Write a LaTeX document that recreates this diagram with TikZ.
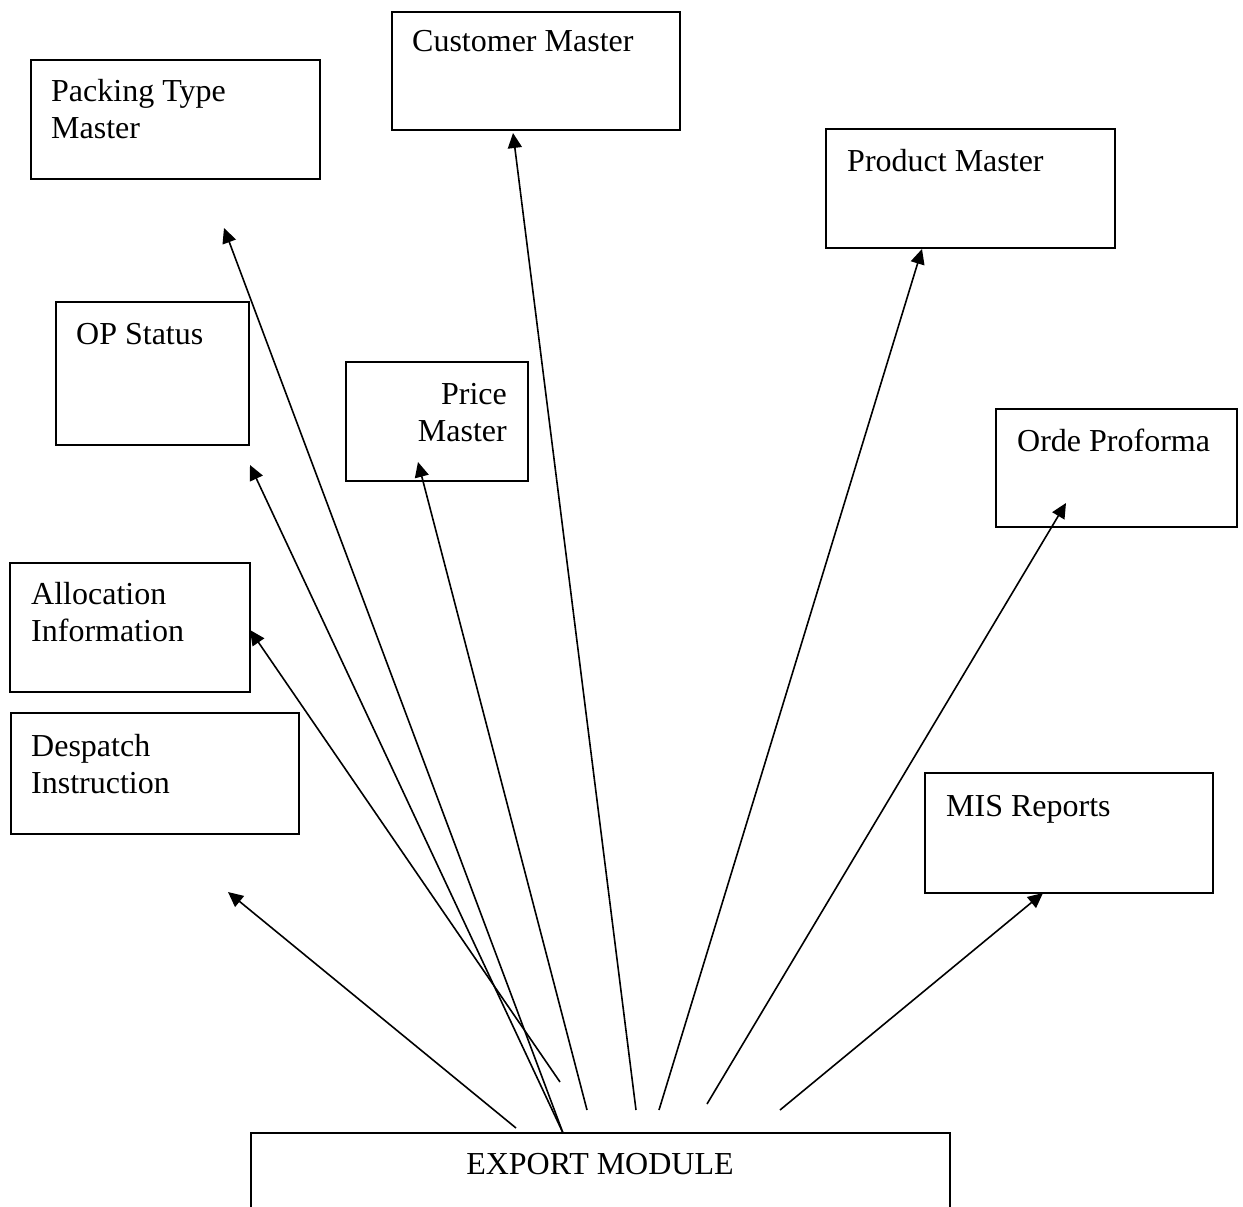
\documentclass[tikz,border=0pt]{standalone}
\usepackage{fontspec}
\setmainfont{Liberation Serif}
\usetikzlibrary{arrows.meta}

\tikzset{
  box/.style={draw, line width=1.4pt, inner sep=0pt},
  lbl/.style={inner sep=0pt, font=\fontsize{32}{37}\selectfont},
  link/.style={line width=1.6pt, -{Triangle[length=15pt,width=14pt]}},
}

% rectangle from top-left (#2,#3) to bottom-right (#4,#5), named #1
\newcommand{\boxat}[5]{%
  \node[box, minimum width=#4-#2, minimum height=#5-#3] (#1) at ({(#2+#4)/2},{(#3+#5)/2}) {};}

\begin{document}
\begin{tikzpicture}[x=1pt,y=-1pt]
\useasboundingbox (0,0) rectangle (1243,1207);

% master boxes
\boxat{cust}{392}{12}{680}{130}
\boxat{pack}{31}{60}{320}{179}
\boxat{prod}{826}{129}{1115}{248}
\boxat{ops}{56}{302}{249}{445}
\boxat{price}{346}{362}{528}{481}
\boxat{orde}{996}{409}{1237}{527}
\boxat{alloc}{10}{563}{250}{692}
\boxat{desp}{11}{713}{299}{834}
\boxat{mis}{925}{773}{1213}{893}

% export module box, running off the lower edge
\node[box, minimum width=699, minimum height=120] (exp) at (600.5,1193) {};

% labels
\node[lbl, anchor=base west] (custT) at (412,52) {Customer Master};
\node[lbl, anchor=base west] (packT1) at (51,101) {Packing Type};
\node[lbl, anchor=base west] (packT2) at (51,138) {Master};
\node[lbl, anchor=base west] (prodT) at (847,171) {Product Master};
\node[lbl, anchor=base west] (opsT) at (76,344) {OP Status};
\node[lbl, anchor=base east] (priceT1) at (507,404) {Price};
\node[lbl, anchor=base east] (priceT2) at (507,441) {Master};
\node[lbl, anchor=base west] (ordeT) at (1017,451) {Orde Proforma};
\node[lbl, anchor=base west] (allocT1) at (31,604) {Allocation};
\node[lbl, anchor=base west] (allocT2) at (31,641) {Information};
\node[lbl, anchor=base west] (despT1) at (31,756) {Despatch};
\node[lbl, anchor=base west] (despT2) at (31,793) {Instruction};
\node[lbl, anchor=base west] (misT) at (946,816) {MIS Reports};
\node[lbl, anchor=base] (expT) at (600,1174) {EXPORT MODULE};

% arrow start points near the export module
\coordinate (sPack) at (563,1133);
\coordinate (sOps) at (563,1133);
\coordinate (sAlloc) at (560,1082);
\coordinate (sDesp) at (516,1128);
\coordinate (sPrice) at (587,1110);
\coordinate (sCust) at (636,1110);
\coordinate (sProd) at (659,1110);
\coordinate (sOrde) at (707,1104);
\coordinate (sMis) at (780,1110);

% arrow tips
\coordinate (tPack) at (224,228);
\coordinate (tOps) at (250,465);
\coordinate (tAlloc) at (250,630);
\coordinate (tDesp) at (228,892);
\coordinate (tPrice) at (418,462);
\coordinate (tCust) at (513,133);
\coordinate (tProd) at (922,249);
\coordinate (tOrde) at (1066,503);
\coordinate (tMis) at (1043,893);

\draw[link] (sPack) -- (tPack);
\draw[link] (sOps) -- (tOps);
\draw[link] (sAlloc) -- (tAlloc);
\draw[link] (sDesp) -- (tDesp);
\draw[link] (sPrice) -- (tPrice);
\draw[link] (sCust) -- (tCust);
\draw[link] (sProd) -- (tProd);
\draw[link] (sOrde) -- (tOrde);
\draw[link] (sMis) -- (tMis);
\end{tikzpicture}
\end{document}
